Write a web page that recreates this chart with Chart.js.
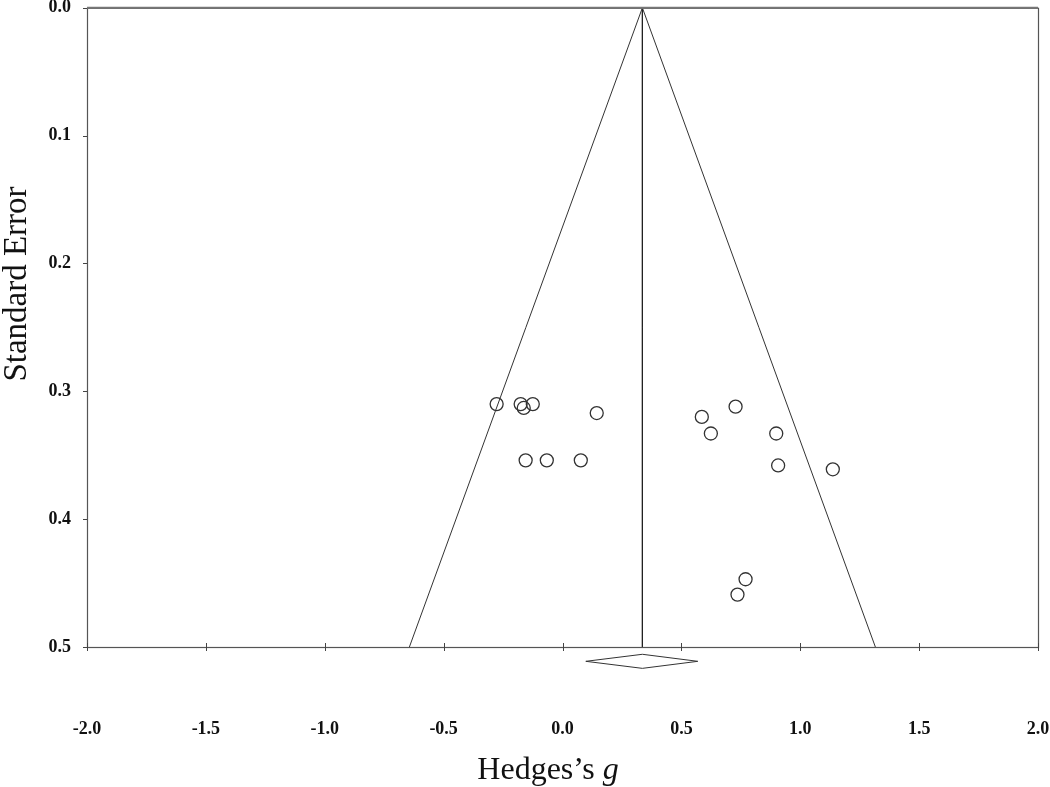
<!DOCTYPE html>
<html>
<head>
<meta charset="utf-8">
<title>Funnel plot</title>
<script src="https://cdn.jsdelivr.net/npm/chart.js@4/dist/chart.umd.min.js"></script>
<style>
  body { margin: 0; background: #fff; }
  #wrap { position: relative; width: 1050px; height: 787px; }
  #xtitle { position: absolute; left: 448px; width: 200px; top: 750px; text-align: center;
            font-family: "Liberation Serif", serif; font-size: 32px; line-height: 36px; color: #111; }
  #ytitle { position: absolute; left: -185px; width: 400px; top: 266px; text-align: center;
            font-family: "Liberation Serif", serif; font-size: 33px; line-height: 36px; color: #111;
            transform: rotate(-90deg); transform-origin: 50% 50%; }
</style>
</head>
<body>
<div id="wrap">
  <canvas id="chart" width="1050" height="787"></canvas>
  <div id="ytitle">Standard Error</div>
  <div id="xtitle">Hedges’s <i>g</i></div>
</div>
<script>
// ---------------------------------------------------------------------------
// Data
// ---------------------------------------------------------------------------

var studyG  = [-0.277, -0.176, -0.125, -0.163, 0.144, -0.155, -0.066, 0.077,
               0.586, 0.728, 0.624, 0.899, 0.907, 1.137, 0.770, 0.736];
var studySE = [0.310, 0.310, 0.310, 0.313, 0.317, 0.354, 0.354, 0.354,
               0.320, 0.312, 0.333, 0.333, 0.358, 0.361, 0.447, 0.459];

var pooledG = 0.336;
var ciLow = 0.098;
var ciHigh = 0.569;

// funnel edges at SE = 0.5 (pooled +/- 1.96 SE)
var funnelG  = [-0.644, pooledG, 1.316];
var funnelSE = [0.5, 0, 0.5];

// diamond drawn just below the axis
var diamondG  = [ciLow, pooledG, ciHigh, pooledG, ciLow];
var diamondSE = [0.5112, 0.5057, 0.5112, 0.5167, 0.5112];

var xTicks = [-2.0, -1.5, -1.0, -0.5, 0.0, 0.5, 1.0, 1.5, 2.0];
var yTicks = [0.0, 0.1, 0.2, 0.3, 0.4, 0.5];

function pts(xs, ys) {
  return xs.map(function (x, i) { return { x: x, y: ys[i] }; });
}

// ---------------------------------------------------------------------------
// Frame and tick marks
// ---------------------------------------------------------------------------

var framePlugin = {
  id: 'frame',
  afterDatasetsDraw: function (chart) {
    var ctx = chart.ctx;
    var a = chart.chartArea;
    var sx = chart.scales.x, sy = chart.scales.y;
    ctx.save();
    ctx.strokeStyle = '#555';
    ctx.lineWidth = 1.2;
    ctx.strokeRect(a.left + 0.5, a.top + 0.5, a.right - a.left, a.bottom - a.top);
    ctx.strokeStyle = '#777';
    ctx.lineWidth = 2;
    ctx.beginPath();
    ctx.moveTo(a.left, a.top);
    ctx.lineTo(a.right, a.top);
    ctx.stroke();
    ctx.strokeStyle = '#444';
    ctx.lineWidth = 1;
    ctx.beginPath();
    xTicks.forEach(function (v) {
      var px = Math.round(sx.getPixelForValue(v)) + 0.5;
      ctx.moveTo(px, a.bottom - 4);
      ctx.lineTo(px, a.bottom + 4);
    });
    yTicks.forEach(function (v) {
      var py = Math.round(sy.getPixelForValue(v)) + 0.5;
      ctx.moveTo(a.left - 4, py);
      ctx.lineTo(a.left, py);
    });
    ctx.stroke();
    ctx.restore();
  }
};

var ctx = document.getElementById('chart').getContext('2d');

var chart = new Chart(ctx, {
  type: 'scatter',
  data: {
    datasets: [
      {
        label: 'Funnel',
        data: pts(funnelG, funnelSE),
        showLine: true,
        borderColor: '#333',
        borderWidth: 1,
        pointRadius: 0,
        fill: false
      },
      {
        label: 'Pooled',
        data: pts([pooledG, pooledG], [0, 0.5]),
        showLine: true,
        borderColor: '#222',
        borderWidth: 1,
        pointRadius: 0
      },
      {
        label: 'Diamond',
        data: pts(diamondG, diamondSE),
        showLine: true,
        borderColor: '#333',
        borderWidth: 1,
        pointRadius: 0,
        clip: false
      },
      {
        label: 'Studies',
        data: pts(studyG, studySE),
        pointRadius: 6.5,
        pointBorderWidth: 1.3,
        pointBorderColor: '#333',
        pointBackgroundColor: 'rgba(255,255,255,0)'
      }
    ]
  },
  options: {
    responsive: false,
    animation: false,
    layout: { padding: { top: 7, right: 12, left: 0, bottom: 0 } },
    plugins: {
      legend: { display: false },
      tooltip: { enabled: false }
    },
    scales: {
      x: {
        type: 'linear',
        min: -2,
        max: 2,
        afterFit: function (s) {
          s.height = 140;
          s.paddingLeft = 0;
          s.paddingRight = 0;
        },
        afterBuildTicks: function (s) { s.ticks = xTicks.map(function (v) { return { value: v }; }); },
        grid: { display: false },
        border: { display: false },
        ticks: {
          padding: 64,
          maxRotation: 0,
          autoSkip: false,
          color: '#111',
          font: { family: 'Liberation Serif', size: 18, weight: 'bold' },
          callback: function (v) { return v.toFixed(1); }
        }
      },
      y: {
        type: 'linear',
        min: 0,
        max: 0.5,
        reverse: true,
        afterFit: function (s) {
          s.width = 87;
          s.paddingTop = 0;
          s.paddingBottom = 0;
        },
        afterBuildTicks: function (s) { s.ticks = yTicks.map(function (v) { return { value: v }; }); },
        grid: { display: false },
        border: { display: false },
        ticks: {
          padding: 8,
          autoSkip: false,
          color: '#111',
          font: { family: 'Liberation Serif', size: 18, weight: 'bold' },
          callback: function (v) { return v.toFixed(1); }
        }
      }
    }
  },
  plugins: [framePlugin]
});
</script>
</body>
</html>
